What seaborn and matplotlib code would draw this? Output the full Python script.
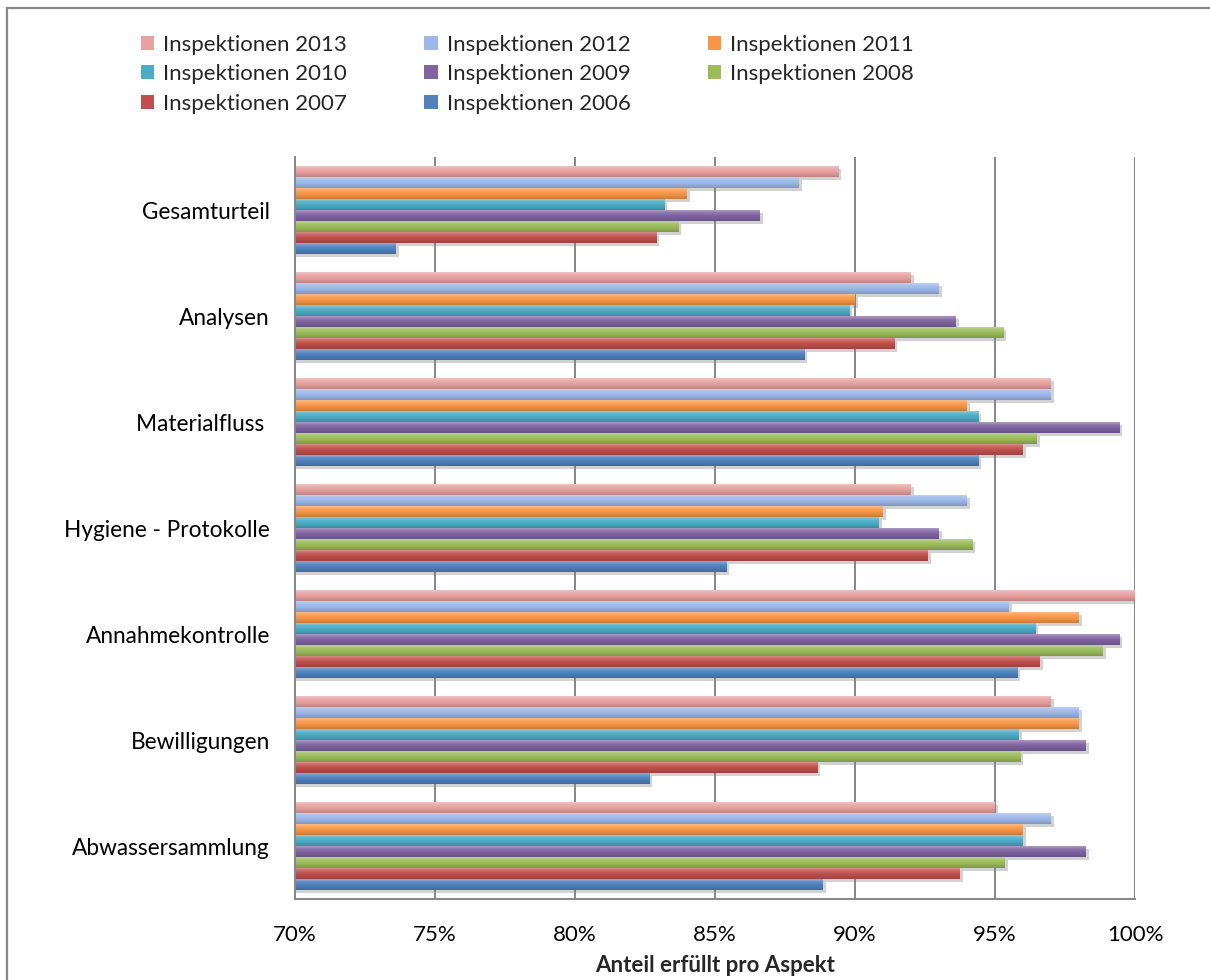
import numpy as np
import pandas as pd
import seaborn as sns
import matplotlib
matplotlib.use("Agg")
import matplotlib.pyplot as plt
import matplotlib.colors as mcolors
import matplotlib.patheffects as pe
from matplotlib.patches import Rectangle, Patch
from matplotlib.ticker import FixedLocator, FuncFormatter

# ---- data -------------------------------------------------------------
aspects = ["Gesamturteil", "Analysen", "Materialfluss ", "Hygiene - Protokolle",
           "Annahmekontrolle", "Bewilligungen", "Abwassersammlung"]
years = ["Inspektionen 2013", "Inspektionen 2012", "Inspektionen 2011",
         "Inspektionen 2010", "Inspektionen 2009", "Inspektionen 2008",
         "Inspektionen 2007", "Inspektionen 2006"]

share_2013 = [89.4, 92.0, 97.0, 92.0, 100.0, 97.0, 95.0]
share_2012 = [88.0, 93.0, 97.0, 94.0, 95.5, 98.0, 97.0]
share_2011 = [84.0, 90.0, 94.0, 91.0, 98.0, 98.0, 96.0]
share_2010 = [83.2, 89.8, 94.4, 90.85, 96.45, 95.85, 96.0]
share_2009 = [86.6, 93.6, 99.45, 93.0, 99.45, 98.25, 98.25]
share_2008 = [83.7, 95.3, 96.5, 94.2, 98.85, 95.9, 95.35]
share_2007 = [82.9, 91.4, 96.0, 92.6, 96.6, 88.65, 93.75]
share_2006 = [73.6, 88.2, 94.4, 85.4, 95.8, 82.65, 88.85]

shares = [share_2013, share_2012, share_2011, share_2010,
          share_2009, share_2008, share_2007, share_2006]

x_ticks = [70, 75, 80, 85, 90, 95, 100]

colors = ["#E8A0A0", "#9CB7E8", "#F79646", "#4BACC6",
          "#8064A2", "#9BBB59", "#C0504D", "#4F81BD"]

df = pd.DataFrame(
    [(a, y, v) for y, vals in zip(years, shares) for a, v in zip(aspects, vals)],
    columns=["Aspekt", "Jahr", "Anteil"],
)

# ---- figure -----------------------------------------------------------
W, H = 1210, 980
fig = plt.figure(figsize=(W / 100, H / 100), dpi=100)
sns.set_style("white")
plt.rcParams["font.family"] = ["Lato", "DejaVu Sans"]
FS_Y = 16.3
FS_X = 16
FS_LEG = 16

ax = fig.add_axes([295 / W, 1 - 899 / H, (1135 - 295) / W, (899 - 157) / H])

sns.barplot(data=df, x="Anteil", y="Aspekt", hue="Jahr", order=aspects,
            hue_order=years, palette=colors, orient="h", width=0.83,
            saturation=1, dodge=True, legend=False, ax=ax, zorder=3)

XMIN, XMAX = 70, 100
ax.set_xlim(XMIN, XMAX)
ylim = ax.get_ylim()


def shade(c, f):
    r = np.array(mcolors.to_rgb(c))
    if f >= 0:
        return r + (1 - r) * f
    return r * (1 + f)


# glossy vertical gradient on each bar, plus a soft drop shadow
for patch in list(ax.patches):
    base = patch.get_facecolor()[:3]
    x0, y0 = patch.get_x(), patch.get_y()
    w, h = patch.get_width(), patch.get_height()
    x_end = x0 + w
    left = max(x0, XMIN)
    stops = np.array([shade(base, 0.35), shade(base, 0.12), shade(base, 0.0),
                      shade(base, -0.08), shade(base, -0.18)])
    t = np.linspace(0, 1, 32)
    pos = np.linspace(0, 1, len(stops))
    grad = np.stack([np.interp(t, pos, stops[:, k]) for k in range(3)], axis=1)
    img = grad[:, None, :]
    patch.set_edgecolor("none")
    patch.set_clip_box(ax.bbox)
    patch.set_path_effects([pe.SimplePatchShadow(offset=(2, -2),
                                                 shadow_rgbFace="#7f7f7f",
                                                 alpha=0.35), pe.Normal()])
    im = ax.imshow(img, extent=(left, x_end, y0 + h, y0), origin="upper",
                   aspect="auto", interpolation="bilinear", zorder=3.5)
    im.set_clip_path(patch)
    im.set_clip_box(ax.bbox)

ax.set_xlim(XMIN, XMAX)
ax.set_ylim(ylim)

# ---- axes styling -----------------------------------------------------
grey = "#868686"
ax.xaxis.set_major_locator(FixedLocator(x_ticks))
ax.xaxis.set_major_formatter(FuncFormatter(lambda v, _: f"{v:.0f}%"))
ax.grid(axis="x", color=grey, linewidth=1.4, zorder=0)
ax.grid(axis="y", visible=False)
ax.set_axisbelow(True)

for side in ["top", "right"]:
    ax.spines[side].set_visible(False)
for side in ["left", "bottom"]:
    ax.spines[side].set_color(grey)
    ax.spines[side].set_linewidth(1.4)
    ax.spines[side].set_zorder(5)

ax.tick_params(axis="x", direction="out", length=5, width=1.2, color=grey,
               labelsize=FS_X, pad=14, labelcolor="black")
ax.tick_params(axis="y", which="major", length=0, labelsize=FS_Y, pad=18,
               labelcolor="black")
ax.yaxis.set_minor_locator(FixedLocator(np.arange(-0.5, len(aspects), 1.0)))
ax.tick_params(axis="y", which="minor", direction="out", length=5, width=1.2,
               color=grey)

ax.set_ylabel("")
ax.set_xlabel("Anteil erfüllt pro Aspekt", fontsize=FS_X, fontweight="bold",
              labelpad=7)

# ---- legend (row-wise reading order in three columns) -------------------
handle_of = {y: Patch(facecolor=c, edgecolor="none") for y, c in zip(years, colors)}
leg_order = [years[i] for i in (0, 3, 6, 1, 4, 7, 2, 5)]
fig.legend([handle_of[y] for y in leg_order], leg_order, ncol=3,
           loc="upper left", bbox_to_anchor=(132 / W, 1 - 26 / H),
           frameon=False, fontsize=FS_LEG, handlelength=0.6, handleheight=0.6,
           handletextpad=0.4, columnspacing=3.48, labelspacing=0.42,
           borderaxespad=0)

# ---- chart frame ------------------------------------------------------
fig.patches.append(Rectangle((7, -20), W + 20, H - 8 + 20, transform=None,
                             fill=False, edgecolor=grey, linewidth=1.6))

fig.savefig("out.png", dpi=100)
